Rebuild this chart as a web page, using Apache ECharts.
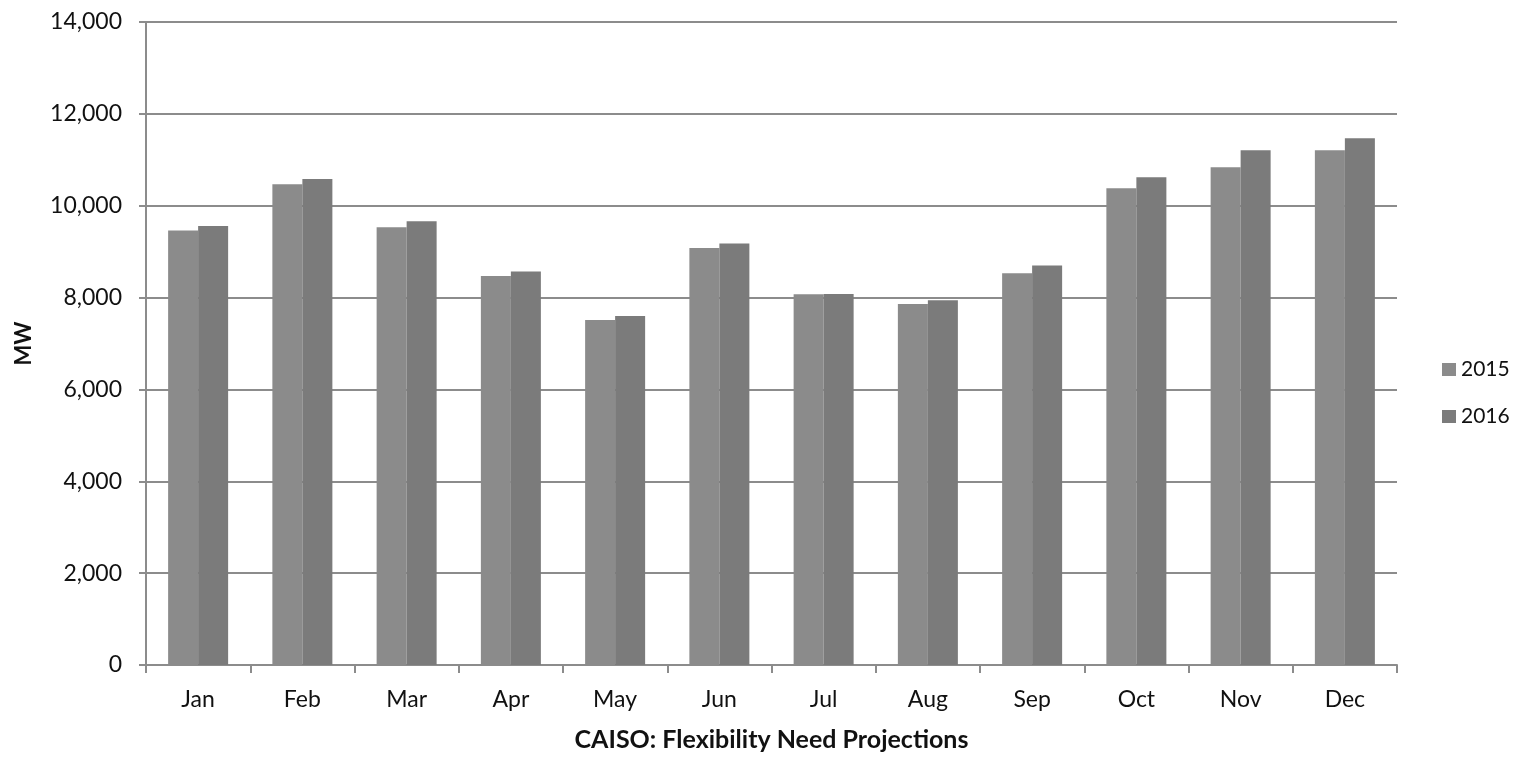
<!DOCTYPE html>
<html>
<head>
<meta charset="utf-8">
<script src="https://cdn.jsdelivr.net/npm/echarts@6/dist/echarts.min.js"></script>
<style>
html,body{margin:0;padding:0;background:#fff;}
#c{width:1524px;height:757px;}
</style>
</head>
<body>
<div id="c"></div>
<script>
const categories = ['Jan','Feb','Mar','Apr','May','Jun','Jul','Aug','Sep','Oct','Nov','Dec'];
const values2015 = [9460, 10470, 9530, 8470, 7510, 9080, 8070, 7860, 8530, 10380, 10840, 11210];
const values2016 = [9560, 10580, 9660, 8570, 7600, 9180, 8080, 7940, 8700, 10620, 11210, 11470];
const yTicks = [0, 2000, 4000, 6000, 8000, 10000, 12000, 14000];

const FONT = 'Lato, "Open Sans", sans-serif';
const chart = echarts.init(document.getElementById('c'));
chart.setOption({
  animation: false,
  backgroundColor: '#ffffff',
  textStyle: {fontFamily: FONT},
  grid: {left: 146, right: 127, top: 22, bottom: 92, containLabel: false, outerBoundsMode: 'none'},
  legend: {
    orient: 'vertical',
    left: 1437,
    top: 354,
    itemWidth: 14,
    itemHeight: 13,
    itemGap: 26,
    icon: 'rect',
    textStyle: {fontSize: 21, color: '#111', fontFamily: FONT},
    data: ['2015', '2016']
  },
  xAxis: {
    type: 'category',
    data: categories,
    name: 'CAISO: Flexibility Need Projections',
    nameLocation: 'middle',
    nameGap: 62,
    nameTextStyle: {fontSize: 25, fontWeight: 'bold', color: '#111', fontFamily: FONT},
    axisLine: {lineStyle: {color: '#8c8c8c', width: 2}},
    axisTick: {show: true, length: 8, lineStyle: {color: '#8c8c8c', width: 2}, alignWithLabel: false},
    axisLabel: {fontSize: 23, color: '#111', margin: 23, fontFamily: FONT},
    splitLine: {show: false}
  },
  yAxis: {
    type: 'value',
    min: yTicks[0],
    max: yTicks[yTicks.length - 1],
    interval: 2000,
    name: 'MW',
    nameLocation: 'middle',
    nameGap: 111,
    nameRotate: 90,
    nameTextStyle: {fontSize: 22, fontWeight: 'bold', color: '#111', fontFamily: FONT},
    axisLine: {show: true, lineStyle: {color: '#8c8c8c', width: 2}},
    axisTick: {show: true, length: 7, lineStyle: {color: '#8c8c8c', width: 2}},
    axisLabel: {
      fontSize: 23, color: '#111', margin: 24, fontFamily: FONT,
      formatter: v => v.toLocaleString('en-US')
    },
    splitLine: {show: true, lineStyle: {color: '#8c8c8c', width: 2}}
  },
  series: [
    {
      name: '2015', type: 'bar', data: values2015,
      barWidth: 30, barGap: '0%',
      itemStyle: {color: '#8b8b8b'}
    },
    {
      name: '2016', type: 'bar', data: values2016,
      barWidth: 30, barGap: '0%',
      itemStyle: {color: '#7b7b7b'}
    }
  ]
});
</script>
</body>
</html>
